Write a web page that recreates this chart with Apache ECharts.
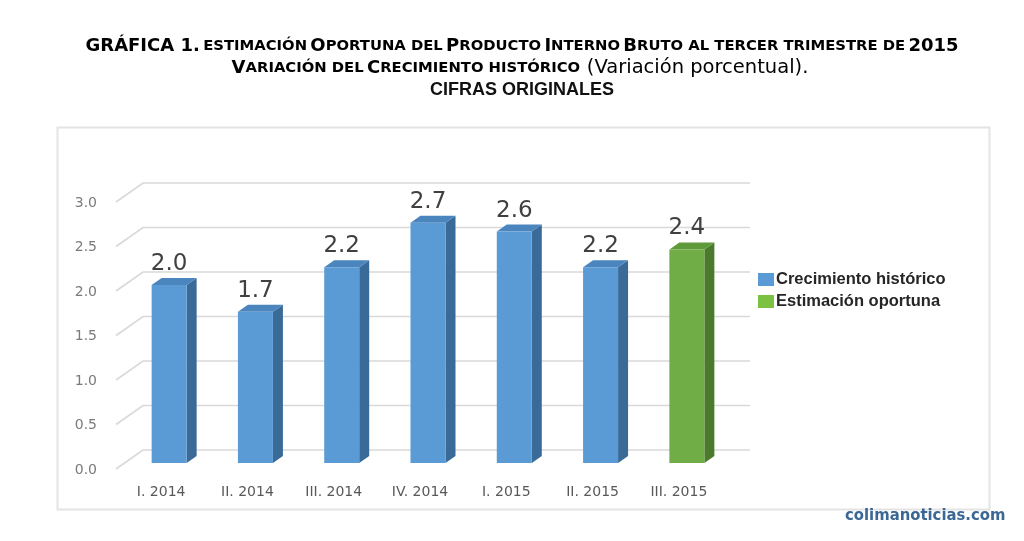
<!DOCTYPE html>
<html>
<head>
<meta charset="utf-8">
<script src="https://cdn.jsdelivr.net/npm/echarts@6/dist/echarts.min.js"></script>
<style>
  html, body { margin: 0; padding: 0; background: #fff; }
  #chart { width: 1024px; height: 541px; }
</style>
</head>
<body>
<div id="chart"></div>
<script>
var categories = ['I. 2014', 'II. 2014', 'III. 2014', 'IV. 2014', 'I. 2015', 'II. 2015', 'III. 2015'];
var historico = [2.0, 1.7, 2.2, 2.7, 2.6, 2.2, null];
var estimacion = [null, null, null, null, null, null, 2.4];
var yTicks = [0, 0.5, 1.0, 1.5, 2.0, 2.5, 3.0];

var arial = "'Liberation Sans', Arial, sans-serif";
var wide = "'DejaVu Sans', sans-serif";
var narrow = "'Liberation Sans Narrow', 'DejaVu Sans Condensed', 'Liberation Sans', sans-serif";

function toPairs(arr) {
    var out = [];
    arr.forEach(function (v, i) {
        if (v !== null) out.push([i, v]);
    });
    return out;
}

// barra "3D": cara frontal, lateral y superior
function barRenderer(front, side, top) {
    return function (params, api) {
        var v = api.value(1);
        var base = api.coord([api.value(0), 0]);
        var tip = api.coord([api.value(0), v]);
        var w = 35, dx = 10, dy = 7;
        var x0 = base[0] - w / 2, x1 = base[0] + w / 2;
        var yb = base[1], yt = tip[1];
        return {
            type: 'group',
            children: [
                { type: 'polygon', shape: { points: [[x1, yb], [x1 + dx, yb - dy], [x1 + dx, yt - dy], [x1, yt]] }, style: { fill: side } },
                { type: 'polygon', shape: { points: [[x0, yt], [x1, yt], [x1 + dx, yt - dy], [x0 + dx, yt - dy]] }, style: { fill: top } },
                { type: 'rect', shape: { x: x0, y: yt, width: w, height: yb - yt }, style: { fill: front } },
                {
                    type: 'text', x: base[0], y: yt - 21,
                    style: {
                        text: v.toFixed(1), fill: '#404040', fontSize: 23,
                        fontFamily: 'DejaVu Sans', align: 'center', verticalAlign: 'middle'
                    }
                }
            ]
        };
    };
}

// líneas de la cuadrícula en perspectiva + etiquetas del eje
function gridRenderer(params, api) {
    var v = api.value(1);
    var p = api.coord([0, v]);
    var cs = params.coordSys;
    var y = p[1];
    return {
        type: 'group',
        children: [{
            type: 'polyline',
            shape: { points: [[cs.x - 10, y + 6], [cs.x + 17, y - 13], [cs.x + cs.width + 20, y - 13]] },
            style: { stroke: '#d9d9d9', lineWidth: 1.6, fill: null }
        }, {
            type: 'text', x: cs.x - 29, y: y + 7,
            style: {
                text: v.toFixed(1), fill: '#7a7a7a', fontSize: 14, fontFamily: 'DejaVu Sans',
                align: 'right', verticalAlign: 'middle'
            }
        }]
    };
}

var myChart = echarts.init(document.getElementById('chart'));

var richTitle = {
    b: { fontFamily: wide, fontWeight: 'bold', fontSize: 18, color: '#111' },
    s: { fontFamily: wide, fontWeight: 'bold', fontSize: 14.8, color: '#111' },
    r: { fontFamily: wide, fontSize: 19.5, color: '#111' }
};

var option = {
    backgroundColor: '#ffffff',
    animation: false,
    legend: {
        orient: 'vertical',
        left: 753, top: 266,
        itemWidth: 16, itemHeight: 13, itemGap: 5,
        icon: 'rect',
        data: ['Crecimiento histórico', 'Estimación oportuna'],
        textStyle: { fontFamily: arial, fontWeight: 'bold', fontSize: 16.5, color: '#262626', padding: [0, 0, 0, -3] }
    },
    grid: { left: 126, right: 294, top: 196, bottom: 78 },
    xAxis: {
        type: 'category',
        data: categories,
        axisLine: { show: false },
        axisTick: { show: false },
        splitLine: { show: false },
        axisLabel: { color: '#595959', fontSize: 14, fontFamily: 'DejaVu Sans', margin: 22, padding: [0, 16, 0, 0] }
    },
    yAxis: {
        type: 'value',
        min: 0, max: 3, interval: 0.5,
        axisLine: { show: false },
        axisTick: { show: false },
        splitLine: { show: false },
        axisLabel: { show: false }
    },
    graphic: [{
        type: 'rect', left: 55, top: 125, z: -10,
        shape: { width: 932, height: 382 },
        style: { fill: null, stroke: '#e4e4e4', lineWidth: 2 }
    }, {
        type: 'text', x: 522, y: 46,
        style: {
            text: '{b|GRÁFICA 1.} {s|ESTIMACIÓN} {b|O}{s|PORTUNA DEL} {b|P}{s|RODUCTO} {b|I}{s|NTERNO} {b|B}{s|RUTO AL TERCER TRIMESTRE DE} {b|2015}',
            rich: richTitle, align: 'center', verticalAlign: 'middle'
        }
    }, {
        type: 'text', x: 520, y: 68,
        style: {
            text: '{b|V}{s|ARIACIÓN DEL} {b|C}{s|RECIMIENTO HISTÓRICO}  {r|(Variación porcentual).}',
            rich: richTitle, align: 'center', verticalAlign: 'middle'
        }
    }, {
        type: 'text', x: 522, y: 90,
        style: {
            text: 'CIFRAS ORIGINALES', fill: '#111',
            fontFamily: arial, fontWeight: 'bold', fontSize: 18,
            align: 'center', verticalAlign: 'middle'
        }
    }, {
        type: 'text', x: 845, y: 516,
        style: {
            text: 'colimanoticias.com', fill: '#3b6794',
            fontFamily: narrow, fontWeight: 'bold', fontSize: 16.5,
            verticalAlign: 'middle'
        }
    }],
    series: [{
        name: 'lineas',
        type: 'custom',
        renderItem: gridRenderer,
        data: yTicks.map(function (v) { return [0, v]; }),
        z: 1,
        silent: true
    }, {
        name: 'Crecimiento histórico',
        type: 'custom',
        renderItem: barRenderer('#5b9bd5', '#3a6a98', '#4a85bd'),
        itemStyle: { color: '#5b9bd5' },
        data: toPairs(historico),
        z: 3
    }, {
        name: 'Estimación oportuna',
        type: 'custom',
        renderItem: barRenderer('#70ad47', '#4b7a2c', '#5f9a3a'),
        itemStyle: { color: '#7cc242' },
        data: toPairs(estimacion),
        z: 3
    }]
};
myChart.setOption(option);
</script>
</body>
</html>
